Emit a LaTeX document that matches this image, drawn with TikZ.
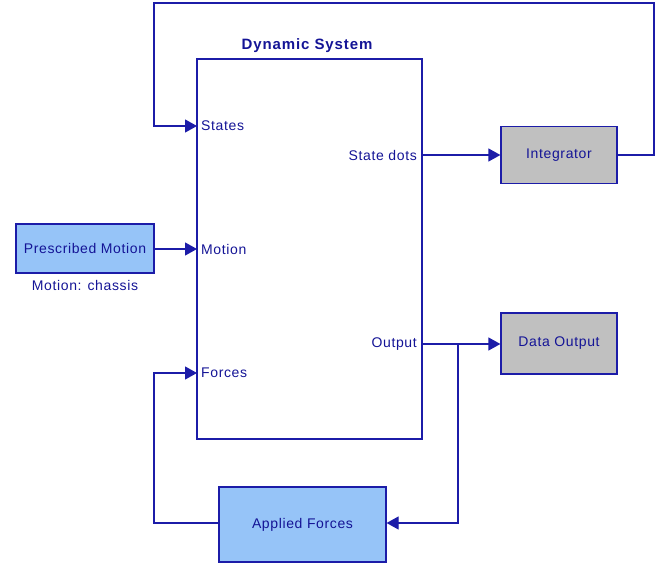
\documentclass[tikz,border=0pt]{standalone}
\usepackage{fontspec}
\setmainfont{Liberation Sans}
\usetikzlibrary{arrows.meta}
\definecolor{lineblue}{RGB}{28,28,168}
\definecolor{textblue}{RGB}{20,20,150}
\definecolor{boxblue}{RGB}{150,196,248}
\definecolor{boxgray}{RGB}{192,192,192}

\begin{document}
\begin{tikzpicture}
        [x=1pt, y=-1pt,
         font=\fontsize{14}{16}\selectfont\addfontfeatures{LetterSpace=4.5},
         every node/.style={
             text=textblue
         },
         block/.style={
             draw=lineblue,
             line width=1.2pt,
             inner sep=0pt
         },
         conn/.style={
             lineblue,
             line width=1.2pt
         },
         arr/.style={
             conn,
             -{Triangle[length=12pt,width=13pt]}
         }
         ]
        \useasboundingbox (0,0) rectangle (657,565);
        % main block
        \node[block, minimum width=225pt, minimum height=380pt] (sys) at (309.5,249) {};
        \node[font=\fontsize{15}{17}\selectfont\bfseries\addfontfeatures{LetterSpace=6}] (title) at (307,46) {Dynamic System};
        % other blocks
        \node[block, fill=boxgray, minimum width=116pt, minimum height=57pt] (integ) at (559,155) {Integrator};
        \node[block, fill=boxgray, minimum width=116pt, minimum height=61pt] (dout) at (559,343.5) {Data Output};
        \node[block, fill=boxblue, minimum width=138pt, minimum height=49pt] (pm) at (85,248.5) {Prescribed Motion};
        \node[anchor=north, yshift=-7pt, inner sep=0pt] (pmlab) at (pm.south) {Motion: chassis};
        \node[block, fill=boxblue, minimum width=167pt, minimum height=75pt] (af) at (302.5,524.5) {Applied Forces};
        % ports
        \coordinate (pstates) at (197,126);
        \coordinate (pmotion) at (197,249);
        \coordinate (pforces) at (197,373);
        \coordinate (pdots) at (422,155);
        \coordinate (pout) at (422,344);
        \node[anchor=west, inner sep=4pt] at (pstates) {States};
        \node[anchor=west, inner sep=4pt] at (pmotion) {Motion};
        \node[anchor=west, inner sep=4pt] at (pforces) {Forces};
        \node[anchor=east, inner sep=5pt] at (pdots) {State dots};
        \node[anchor=east, inner sep=5pt] at (pout) {Output};
        % bends
        \coordinate (fbR) at (654,3);
        \coordinate (fbL) at (154,3);
        \coordinate (split) at (458,344);
        \coordinate (afL) at (154,523);
        % connections
        \draw[arr] (integ.east) -| (fbR) -- (fbL) |- (pstates);
        \draw[arr] (pdots) -- (pdots -| integ.west);
        \draw[arr] (pm.east |- pmotion) -- (pmotion);
        \draw[arr] (pout) -- (pout -| dout.west);
        \draw[arr] (split) |- (af.east |- afL);
        \draw[arr] (af.west |- afL) -- (afL) |- (pforces);
    \end{tikzpicture}
\end{document}
